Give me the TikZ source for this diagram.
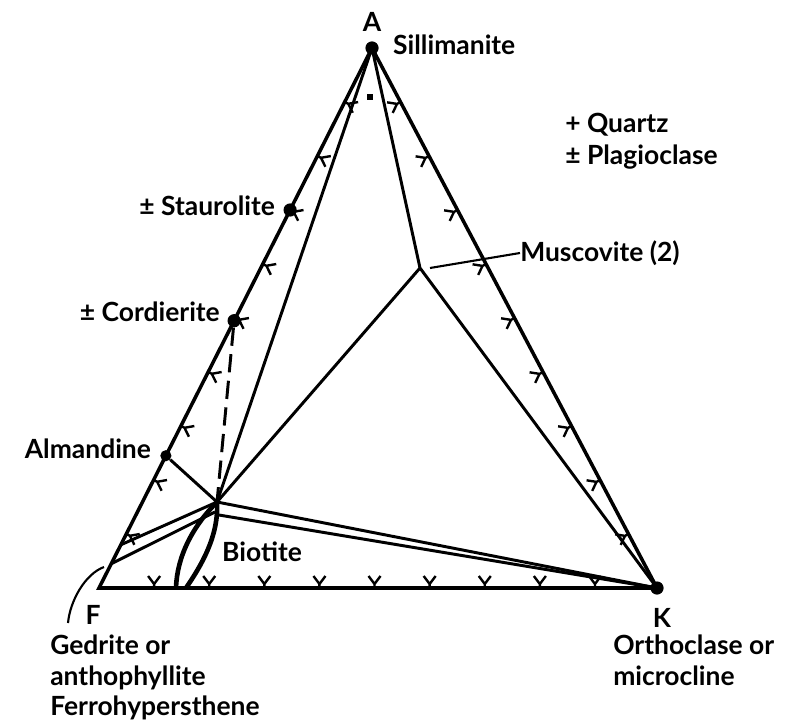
\documentclass[tikz,border=0pt]{standalone}
\usepackage{fontspec}
\setmainfont{Lato}
\usetikzlibrary{calc,positioning}

\begin{document}
\begin{tikzpicture}[x=0.025cm,y=0.025cm,
  edge/.style={line width=2.5pt},
  tie/.style={line width=2.1pt},
  lens/.style={line width=3.3pt},
  ptr/.style={line width=1.5pt},
  dot/.style={circle,fill,inner sep=0pt,minimum size=0.33cm},
  lbl/.style={inner sep=0pt,font=\fontsize{18.8}{21.5}\selectfont\bfseries},
  tk/.pic={\draw[line width=1.7pt] (-6,12) -- (0,4) -- (6,12) (0,4) -- (0,0);}
]
  \useasboundingbox (0,0) rectangle (788,726);

  % corners of the AFK triangle
  \node[dot] (A) at (372,678) {};
  \coordinate (F) at (99,138);
  \node[dot] (K) at (657,138) {};

  % phases
  \node[dot] (St) at ($(A)!0.3!(F)$) {};
  \node[dot] (Crd) at ($(A)!0.505!(F)$) {};
  \node[dot,minimum size=0.28cm] (Alm) at ($(A)!0.755!(F)$) {};
  \coordinate (Ms) at (420,458);
  \coordinate (Bt) at (217,224);
  \coordinate (Bt2) at (215,214);
  \coordinate (Bt3) at (219,211);
  \coordinate (Ged1) at ($(A)!0.92!(F)$);
  \coordinate (Ged2) at ($(A)!0.955!(F)$);
  \coordinate (BtL) at (176,138);
  \coordinate (BtR) at (186,138);
  \node[fill,inner sep=0pt,minimum size=0.17cm] (sq) at (370,629) {};

  % triangle
  \draw[edge] (A.center) -- (F) -- (K.center) -- cycle;
  \foreach \t in {0.1,0.2,...,0.9} {
    \path (F) -- (K) pic[pos=\t,sloped,allow upside down]{tk};
    \path (K.center) -- (A.center) pic[pos=\t,sloped,allow upside down]{tk};
    \path (A.center) -- (F) pic[pos=\t,sloped,allow upside down]{tk};
  }

  % tie lines
  \draw[tie] (A.center) -- (Bt);
  \draw[tie] (A.center) -- (Ms) -- (K.center);
  \draw[tie] (Ms) -- (Bt);
  \draw[tie] (Alm) -- (Bt);
  \draw[tie,dash pattern=on 13pt off 6pt] (Crd) -- (Bt);
  \draw[tie] (Bt) -- (K.center);
  \draw[tie] (Bt3) -- (K.center);
  \draw[tie] (Bt) -- (Ged1);
  \draw[tie] (Bt2) -- (Ged2);
  \draw[lens] (Bt) .. controls (193,200) and (177,170) .. (BtL);
  \draw[lens] (Bt) .. controls (219,190) and (201,160) .. (BtR);

  % labels
  \node[lbl] (Alab) at (372,704) {A};
  \node[lbl,right=0.35cm of A,yshift=2pt] (sil) {Sillimanite};
  \node[lbl,left=0.2cm of St,yshift=3pt] (stl) {± Staurolite};
  \node[lbl,left=0.18cm of Crd,yshift=6pt] (crl) {± Cordierite};
  \node[lbl,left=0.22cm of Alm,yshift=5pt] (alml) {Almandine};
  \node[lbl,anchor=west] (qtz) at (565,601) {+ Quartz};
  \node[lbl,below=0.2cm of qtz.south west,anchor=north west] (plg) {± Plagioclase};
  \node[lbl,anchor=west] (msl) at (520,473) {Muscovite (2)};
  \node[lbl] (btl) at (262,174) {Biotite};
  \node[lbl] (Flab) at (93,111) {F};
  \node[lbl] (Klab) at (662,108) {K};
  \node[lbl,anchor=north west,align=left] (ged) at (50,91)
    {Gedrite or\\anthophyllite\\Ferrohypersthene};
  \node[lbl,anchor=north west,align=left] (ort) at (613,91)
    {Orthoclase or\\microcline};

  % pointers
  \coordinate (msp) at (430,458);
  \draw[ptr] (msp) -- (msl.west);
  \coordinate (gedp) at (68,103);
  \draw[ptr] (gedp) .. controls (70,125) and (85,152) .. (104,159);
\end{tikzpicture}
\end{document}
